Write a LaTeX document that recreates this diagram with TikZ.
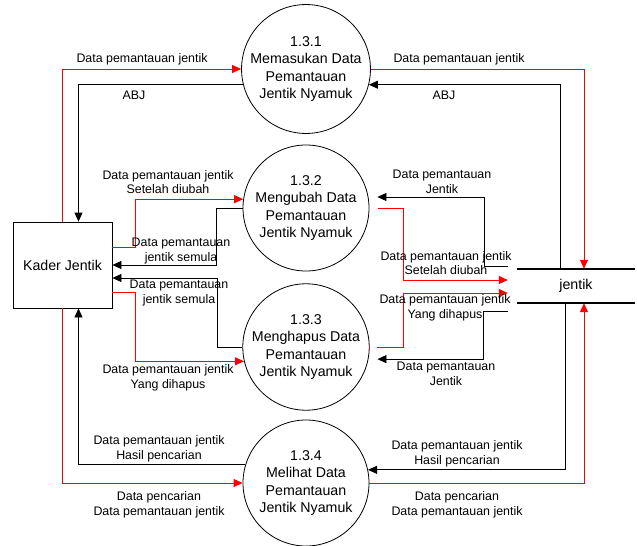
\documentclass[tikz,border=0pt]{standalone}
\usepackage{fontspec}
\setmainfont{Liberation Sans}
\usetikzlibrary{arrows.meta}

\begin{document}
\begin{tikzpicture}[
  x=1pt, y=-1pt, >={Triangle[length=9pt,width=8pt]},
  proc/.style={draw, circle, line width=0.8pt, minimum size=126pt, inner sep=0pt,
               align=center, font=\fontsize{14.2}{17.5}\selectfont},
  ext/.style={draw, line width=0.8pt, minimum width=99pt, minimum height=86pt,
              font=\fontsize{14.2}{17}\selectfont},
  dstore/.style={minimum width=118pt, minimum height=34pt,
                 font=\fontsize{14.2}{17}\selectfont},
  lbl/.style={align=center, inner sep=0pt, font=\fontsize{12.4}{14.5}\selectfont},
  fred/.style={->, red, line width=0.8pt},
  fblk/.style={->, black, line width=0.8pt},
]
  \useasboundingbox (0,0) rectangle (637,546);

  \node[ext] (kader) at (62.5,265) {Kader Jentik};
  \node[proc] (p1) at (306,69) {1.3.1\\Memasukan Data\\Pemantauan\\Jentik Nyamuk};
  \node[proc] (p2) at (306,208) {1.3.2\\Mengubah Data\\Pemantauan\\Jentik Nyamuk};
  \node[proc] (p3) at (306,347) {1.3.3\\Menghapus Data\\Pemantauan\\Jentik Nyamuk};
  \node[proc] (p4) at (306,483) {1.3.4\\Melihat Data\\Pemantauan\\Jentik Nyamuk};
  \node[dstore] (store) at (576,286) {jentik};
  \draw[line width=1.6pt] (store.north west) -- (store.north east);
  \draw[line width=1.6pt] (store.south west) -- (store.south east);

  \draw[fred] (kader.north) |- (p1);
  \draw[fblk] (p1.194) -| ([xshift=16pt]kader.north);
  \draw[fred] (p1.east) -| ([xshift=8pt]store.north);
  \draw[fblk] ([xshift=-16pt]store.north) |- (p1.-14);

  \draw[fred] ([yshift=18pt]kader.east) -- ++(23,0) |- (p2.172);
  \draw[fblk] (p2.west) -- ++(-26,0) |- (kader.east);
  \draw[fblk] (p3.west) -- ++(-25,0) |- ([yshift=-13pt]kader.east);
  \draw[fred] ([yshift=-27pt]kader.east) -- ++(23,0) |- (p3.193);

  \draw[fblk] (p4.163) -| ([xshift=16pt]kader.south);
  \draw[fred] (kader.south) |- (p4);
  \draw[fblk] ([xshift=-11pt]store.south) |- (p4.12);
  \draw[fred] (p4.east) -| ([xshift=8pt]store.south);

  \draw[fblk] ([shift={(-9pt,20pt)}]store.west) -- ++(-23,0) |- ([xshift=9pt]p2.10);
  \draw[fred] ([xshift=9pt]p2.east) -- ++(25,0) |- ([shift={(-9pt,6pt)}]store.west);
  \draw[fred] ([xshift=7pt]p3.east) -- ++(27,0) |- ([shift={(-9pt,-7pt)}]store.west);
  \draw[fblk] ([shift={(-9pt,-25pt)}]store.west) -- ++(-24,0) |- ([xshift=9pt]p3.-11);

  \node[lbl] (addin) at (142,59) {Data pemantauan jentik};
  \node[lbl] (abjout) at (134,95) {ABJ};
  \node[lbl] (addst) at (459,59) {Data pemantauan jentik};
  \node[lbl] (abjst) at (444,95) {ABJ};
  \node[lbl] (editin) at (168,182) {Data pemantauan jentik\\Setelah diubah};
  \node[lbl] (editout) at (181,251) {Data pemantauan\\jentik semula};
  \node[lbl] (delout) at (179,293) {Data pemantauan\\jentik semula};
  \node[lbl] (delin) at (168,378) {Data pemantauan jentik\\Yang dihapus};
  \node[lbl] (viewout) at (159,449) {Data pemantauan jentik\\Hasil pencarian};
  \node[lbl] (viewin) at (159,505) {Data pencarian\\Data pemantauan jentik};
  \node[lbl] (viewst) at (457,454) {Data pemantauan jentik\\Hasil pencarian};
  \node[lbl] (viewq) at (457,505) {Data pencarian\\Data pemantauan jentik};
  \node[lbl] (editst) at (442,182) {Data pemantauan\\Jentik};
  \node[lbl] (editsv) at (446,263) {Data pemantauan jentik\\Setelah diubah};
  \node[lbl] (delsv) at (445,308) {Data pemantauan jentik\\Yang dihapus};
  \node[lbl] (delst) at (446,374) {Data pemantauan\\Jentik};
\end{tikzpicture}
\end{document}
